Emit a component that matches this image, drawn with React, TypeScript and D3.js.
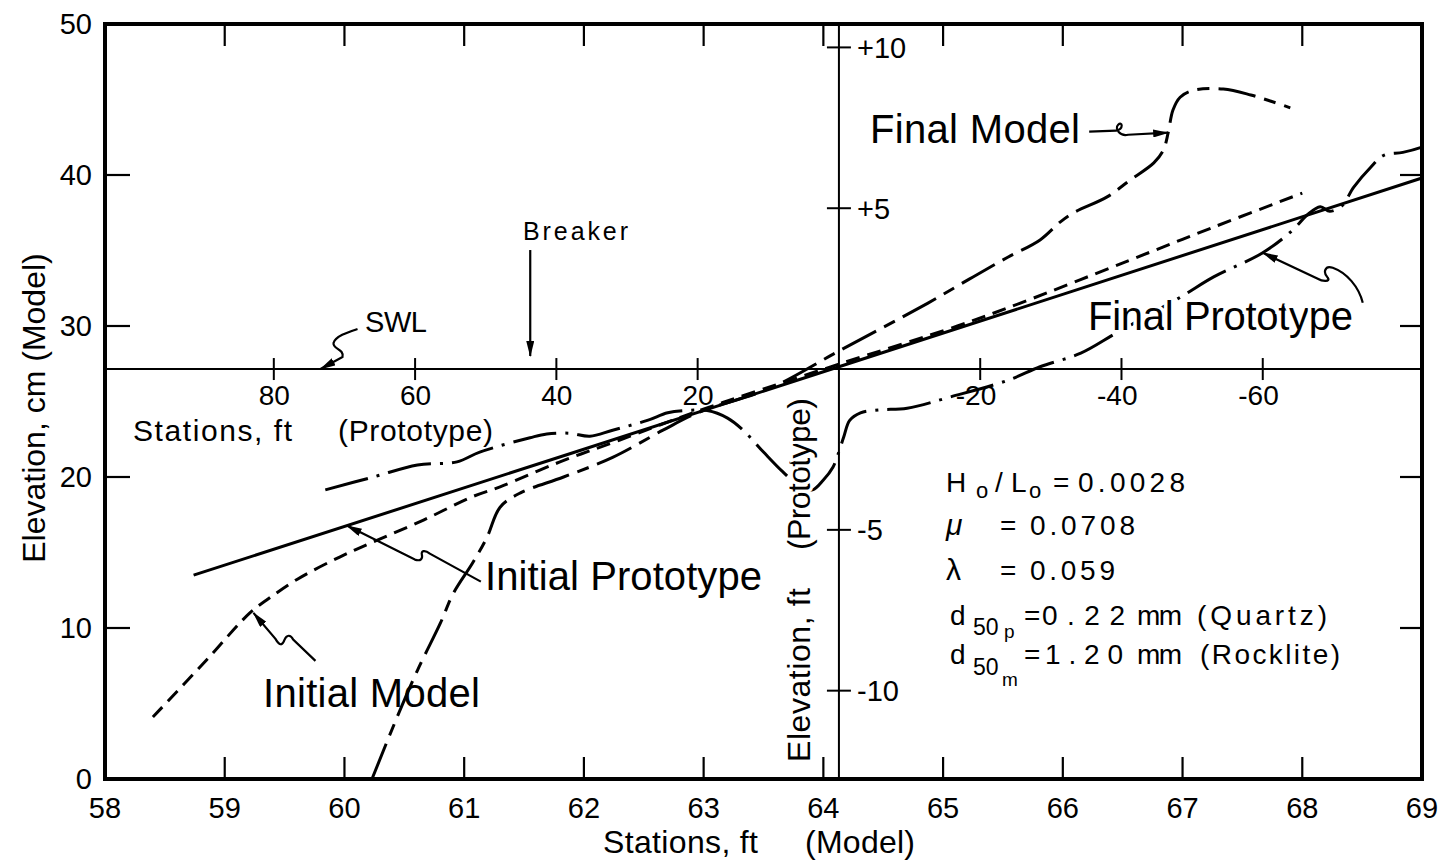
import React from "react";
import * as d3 from "d3";

// profiles: [model station (ft), elevation (cm, model)]
const initialPrototype: [number, number][] = [
  [58.74, 13.5], [64.13, 27.3], [69.0, 39.8],
];

const initialModel: [number, number][] = [
  [58.4, 4.1], [58.85, 7.9], [59.21, 11.0], [59.35, 11.85], [59.6, 13.2],
  [59.96, 14.7], [60.24, 15.7], [60.66, 17.15], [61.07, 18.7], [61.3, 19.35],
  [61.8, 21.0], [62.3, 22.45], [62.91, 24.25], [63.47, 25.75], [64.14, 27.5],
  [65.12, 30.0], [65.64, 31.5], [66.54, 34.3], [67.26, 36.55], [68.0, 38.8],
];

const finalModel: [number, number][] = [
  [60.23, 0], [60.44, 4.1], [60.61, 7.2], [60.8, 10.3], [60.91, 12.3],
  [61.07, 14.3], [61.19, 16.0], [61.3, 18.0], [61.47, 18.95], [61.83, 20.0],
  [62.24, 21.3], [62.66, 23.1], [62.95, 24.25], [63.56, 25.9], [64.12, 28.3],
  [64.87, 31.5], [65.25, 33.25], [65.54, 34.55], [65.81, 35.7], [65.98, 36.9],
  [66.09, 37.5], [66.37, 38.55], [66.56, 39.65], [66.76, 40.8], [66.84, 41.65],
  [66.88, 42.8], [66.92, 44.3], [66.98, 45.15], [67.09, 45.6], [67.34, 45.7],
  [67.57, 45.3], [67.9, 44.45],
];

const finalPrototype: [number, number][] = [
  [59.84, 19.15], [60.24, 20.0], [60.61, 20.8], [60.94, 21.0], [61.13, 21.65],
  [61.55, 22.6], [61.69, 22.85], [61.88, 22.9], [62.05, 22.7], [62.24, 23.1],
  [62.53, 23.75], [62.7, 24.25], [62.86, 24.4], [63.03, 24.4], [63.2, 23.9],
  [63.33, 23.1], [63.5, 21.65], [63.66, 20.35], [63.81, 19.35], [63.91, 19.15],
  [64.0, 19.8], [64.08, 20.65], [64.12, 21.45], [64.17, 22.65], [64.22, 23.75],
  [64.31, 24.25], [64.47, 24.45], [64.7, 24.55], [65.06, 25.3], [65.54, 26.4],
  [65.81, 27.3], [66.15, 28.2], [66.45, 29.55], [66.98, 31.9], [67.26, 33.25],
  [67.67, 34.85], [67.92, 36.35], [68.04, 37.35], [68.15, 37.9], [68.23, 37.6],
  [68.33, 37.95], [68.43, 39.2], [68.57, 40.5], [68.68, 41.3], [68.84, 41.5],
  [69.0, 41.85],
];

const stationTicks = d3.range(58, 70);
const elevTicks = [0, 10, 20, 30, 40, 50];
const protoStationTicks = [80, 60, 40, 20, -20, -40, -60];
const protoElevTicks = [10, 5, -5, -10];

const SWL = 27.15; // cm
const ORIGIN = 64.13; // model station of prototype station 0
const LAMBDA = 0.059;
const CM_PER_PROTO_FT = 2.13;
const BREAKER = 43.7; // prototype station, ft

const FONT = "'Liberation Sans', Arial, sans-serif";

const x = d3.scaleLinear().domain([58, 69]).range([105, 1422]);
const y = d3.scaleLinear().domain([0, 50]).range([779, 24]);
const protoX = d3
  .scaleLinear()
  .domain([0, -60])
  .range([x(ORIGIN), x(ORIGIN + 60 * LAMBDA)]);
const protoY = d3
  .scaleLinear()
  .domain([0, 10])
  .range([y(SWL), y(SWL + 10 * CM_PER_PROTO_FT)]);

const line = d3
  .line<[number, number]>()
  .x((d) => x(d[0]))
  .y((d) => y(d[1]))
  .curve(d3.curveCatmullRom.alpha(0.5));

// solid line value at a station, for the arrow tip
const solidAt = (s: number) =>
  initialPrototype[0][1] +
  ((s - initialPrototype[0][0]) *
    (initialPrototype[2][1] - initialPrototype[0][1])) /
    (initialPrototype[2][0] - initialPrototype[0][0]);

const arrows = [
  { tip: [59.8, SWL], d: "M37,-40 C28,-37 15,-33 13,-26 C12,-20 24,-20 22,-12 L0,0" },
  { tip: [66.88, 42.8], d: "M-79,-1 L-52,-2 C-44,-4 -46,-12 -50,-8 C-54,-4 -48,4 -40,2 L0,0" },
  { tip: [67.67, 34.85], d: "M100,50 C96,34 84,20 70,15 C62,12 60,20 65,25 C68,29 60,29 55,26 L0,0" },
  { tip: [60.02, solidAt(60.02)], d: "M134,56 L83,28 C78,24 74,25 75,29 C76,33 74,36 68,34 L0,0" },
  { tip: [59.24, 11.0], d: "M62,48 L40,27 C37,21 33,22 31,27 C29,33 26,33 22,26 L0,0" },
];

const App: React.FC = () => {
  const x0 = x(58), x1 = x(69), y0 = y(0), y1 = y(50);
  const ox = x(ORIGIN);
  const sy = y(SWL);
  return (
    <svg
      width={1439}
      height={860}
      style={{ position: "absolute", left: 0, top: 0, background: "#fff" }}
      fontFamily={FONT}
    >
      <defs>
        <marker
          id="ah"
          viewBox="0 0 16 8"
          refX="15"
          refY="4"
          markerWidth="16"
          markerHeight="8"
          orient="auto"
          markerUnits="userSpaceOnUse"
        >
          <path d="M0,0 L16,4 L0,8 Z" fill="#000" />
        </marker>
      </defs>

      {/* frame */}
      <rect x={x0} y={y1} width={x1 - x0} height={y0 - y1} fill="none" stroke="#000" strokeWidth={4} />

      {/* station ticks top & bottom */}
      {stationTicks.slice(1, -1).map((t) => (
        <g key={"st" + t} stroke="#000" strokeWidth={2.2}>
          <line x1={x(t)} x2={x(t)} y1={y0} y2={y0 - 22} />
          <line x1={x(t)} x2={x(t)} y1={y1} y2={y1 + 22} />
        </g>
      ))}
      {stationTicks.map((t) => (
        <text key={"sl" + t} x={x(t)} y={818} fontSize={29} textAnchor="middle">
          {t}
        </text>
      ))}

      {/* elevation ticks left & right */}
      {elevTicks.slice(1, -1).map((t) => (
        <g key={"et" + t} stroke="#000" strokeWidth={2.2}>
          <line x1={x0} x2={x0 + 25} y1={y(t)} y2={y(t)} />
          <line x1={x1} x2={x1 - 22} y1={y(t)} y2={y(t)} />
        </g>
      ))}
      {elevTicks.map((t) => (
        <text key={"el" + t} x={92} y={y(t)} dy="0.36em" fontSize={29} textAnchor="end">
          {t}
        </text>
      ))}

      {/* axis titles */}
      <text x={603} y={853} fontSize={32} textLength={155}>Stations, ft</text>
      <text x={805} y={853} fontSize={32} textLength={110}>(Model)</text>
      <text
        transform={`translate(45,408) rotate(-90)`}
        fontSize={32}
        textAnchor="middle"
      >
        Elevation, cm  (Model)
      </text>

      {/* SWL and prototype origin */}
      <line x1={x0} x2={x1} y1={sy} y2={sy} stroke="#000" strokeWidth={2} />
      <line x1={ox} x2={ox} y1={y1} y2={y0} stroke="#000" strokeWidth={2} />

      {protoStationTicks.map((t) => (
        <g key={"ps" + t}>
          <line x1={protoX(t)} x2={protoX(t)} y1={sy - 11} y2={sy + 11} stroke="#000" strokeWidth={2} />
          <text x={protoX(t) + 16} y={sy + 36} fontSize={28} textAnchor="end">
            {t < 0 ? "-" + Math.abs(t) : t}
          </text>
        </g>
      ))}
      <text x={133} y={441} fontSize={30} textLength={159}>Stations, ft</text>
      <text x={338} y={441} fontSize={30} textLength={155}>(Prototype)</text>

      {protoElevTicks.map((t) => (
        <g key={"pe" + t}>
          <line x1={ox - 12} x2={ox + 12} y1={protoY(t)} y2={protoY(t)} stroke="#000" strokeWidth={2} />
          <text x={857} y={protoY(t)} dy="0.36em" fontSize={29}>
            {t > 0 ? "+" + t : "-" + Math.abs(t)}
          </text>
        </g>
      ))}

      {/* profiles */}
      <g fill="none" stroke="#000" strokeWidth={3}>
        <path d={line(initialPrototype) || ""} />
        <path d={line(initialModel) || ""} strokeDasharray="14 8" />
        <path d={line(finalModel) || ""} strokeDasharray="38 9 12 9" />
        <path d={line(finalPrototype) || ""} strokeDasharray="44 9 3 9" />
      </g>

      {/* prototype elevation title (over the profiles) */}
      <text
        transform={`translate(810,762) rotate(-90)`}
        fontSize={32}
        textLength={174}
        stroke="#fff"
        strokeWidth={6}
        paintOrder="stroke"
      >
        Elevation, ft
      </text>
      <text
        transform={`translate(810,550) rotate(-90)`}
        fontSize={32}
        textLength={152}
        stroke="#fff"
        strokeWidth={6}
        paintOrder="stroke"
      >
        (Prototype)
      </text>

      {/* breaker */}
      <text x={523} y={240} fontSize={25} textLength={105}>Breaker</text>
      <line
        x1={protoX(BREAKER)}
        x2={protoX(BREAKER)}
        y1={sy - 119}
        y2={sy - 13}
        stroke="#000"
        strokeWidth={2.2}
        markerEnd="url(#ah)"
      />
      <text x={365} y={332} fontSize={29} textLength={62}>SWL</text>

      {/* annotation arrows */}
      {arrows.map((a, i) => (
        <path
          key={"ar" + i}
          transform={`translate(${x(a.tip[0])},${y(a.tip[1])})`}
          d={a.d}
          fill="none"
          stroke="#000"
          strokeWidth={2.2}
          markerEnd="url(#ah)"
        />
      ))}

      {/* curve labels */}
      <text x={870} y={143} fontSize={40} textLength={210}>Final Model</text>
      <text
        x={1088}
        y={330}
        fontSize={40}
        textLength={265}
        stroke="#fff"
        strokeWidth={7}
        paintOrder="stroke"
      >
        Final Prototype
      </text>
      <text x={485} y={590} fontSize={40} textLength={277}>Initial Prototype</text>
      <text x={263} y={707} fontSize={40} textLength={217}>Initial Model</text>

      {/* parameters */}
      <g fontSize={28}>
        <text x={946} y={492}>H</text>
        <text x={976} y={498} fontSize={22}>o</text>
        <text x={995} y={492}>/</text>
        <text x={1011} y={492}>L</text>
        <text x={1029} y={498} fontSize={22}>o</text>
        <text x={1053} y={492}>=</text>
        <text x={1078} y={492} textLength={107}>0.0028</text>

        <text x={946} y={535} fontStyle="italic" fontSize={30}>μ</text>
        <text x={1000} y={535}>=</text>
        <text x={1030} y={535} textLength={105}>0.0708</text>

        <text x={946} y={580} fontSize={30}>λ</text>
        <text x={1000} y={580}>=</text>
        <text x={1030} y={580} textLength={85}>0.059</text>

        <text x={950} y={625}>d</text>
        <text x={973} y={635} fontSize={23}>50</text>
        <text x={1004} y={638} fontSize={19}>p</text>
        <text x={1024} y={625}>=</text>
        <text x={1042} y={625} textLength={83}>0.22</text>
        <text x={1137} y={625} textLength={45}>mm</text>
        <text x={1197} y={625} textLength={130}>(Quartz)</text>

        <text x={950} y={664}>d</text>
        <text x={973} y={675} fontSize={23}>50</text>
        <text x={1002} y={686} fontSize={19}>m</text>
        <text x={1024} y={664}>=</text>
        <text x={1045} y={664} textLength={78}>1.20</text>
        <text x={1137} y={664} textLength={45}>mm</text>
        <text x={1200} y={664} textLength={140}>(Rocklite)</text>
      </g>
    </svg>
  );
};

export default App;
